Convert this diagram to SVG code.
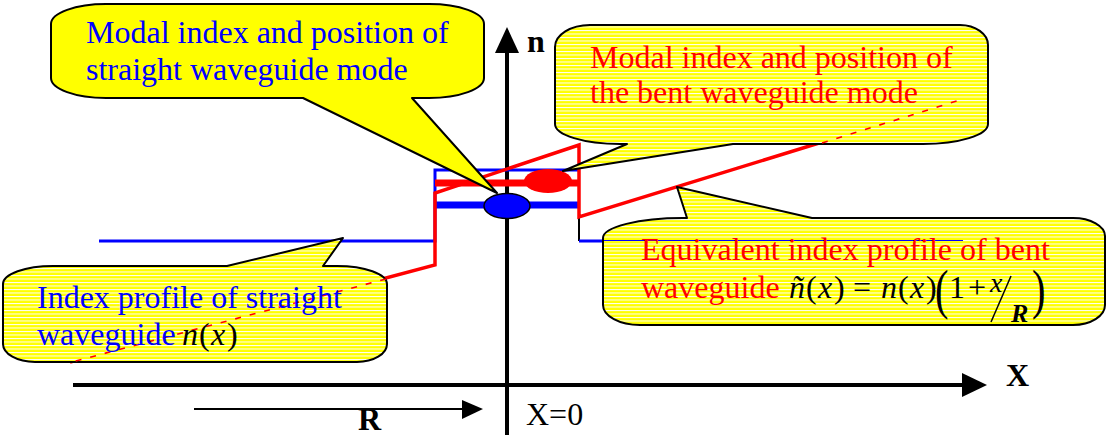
<svg xmlns="http://www.w3.org/2000/svg" width="1107" height="435" viewBox="0 0 1107 435">
<style>
.t{font-family:"Liberation Serif","Times New Roman",serif;font-size:32px}
.blue{fill:#0000FF}
.red{fill:#FF0000}
.blk{fill:#000}
.it{font-style:italic}
.bold{font-weight:bold}
.callout{stroke:#000;stroke-width:2;stroke-linejoin:round}
.axis{stroke:#000;stroke-width:4;fill:none}
.dash{stroke:#FF0000;stroke-width:1.6;stroke-dasharray:6 9;fill:none}
</style>
<defs>
<pattern id="stripes" patternUnits="userSpaceOnUse" x="0" y="240" width="10" height="3.5">
<rect x="0" y="0" width="10" height="3.5" fill="#FFFF00"/>
<rect x="0" y="0" width="10" height="1" fill="#FFFFFF"/>
</pattern>
</defs>

<g id="axes">
<line class="axis" x1="507" y1="50" x2="507" y2="435"/>
<polygon points="507,27 495,53 519,53" fill="#000"/>
<line class="axis" x1="73" y1="385" x2="964" y2="385"/>
<polygon points="987,385 962,373 962,397" fill="#000"/>
<line x1="194" y1="409" x2="465" y2="409" stroke="#000" stroke-width="2"/>
<polygon points="483,409 462,400 462,419" fill="#000"/>
<text class="t bold" x="527" y="52" font-size="40">n</text>
<text class="t bold" x="1006" y="386" font-size="38">X</text>
<text class="t bold" x="358" y="430" font-size="37">R</text>
<text class="t" x="526" y="425" font-size="30">X=0</text>
</g>

<g id="connectors">
<polyline points="99,241 435,241 435,170 579,170" fill="none" stroke="#0000FF" stroke-width="3"/>
<line x1="579" y1="170" x2="579" y2="241" stroke="#000" stroke-width="2"/>
<line x1="579" y1="241" x2="963" y2="241" stroke="#0000FF" stroke-width="3"/>
<line x1="435" y1="205" x2="579" y2="205" stroke="#0000FF" stroke-width="7"/>
<polyline points="70,362 435,265 435,193 579,145 579,217 965,98" fill="none" stroke="#FF0000" stroke-width="3.5" stroke-linejoin="miter"/>
<line x1="435" y1="183" x2="579" y2="183" stroke="#FF0000" stroke-width="7"/>
</g>

<g id="mode-straight">
<ellipse cx="507" cy="206" rx="23" ry="12.5" fill="#0000FF" stroke="#000" stroke-width="1.5"/>
</g>
<g id="mode-bent">
<ellipse cx="548" cy="181" rx="24" ry="12" fill="#FF0000"/>
</g>

<g id="callout-straight-mode">
<path class="callout" fill="#FFFF00" d="M 106 4 H 429 A 55 20 0 0 1 484 24 V 78 A 55 20 0 0 1 429 98 H 412 L 497 193 L 303 98 H 106 A 55 20 0 0 1 51 78 V 24 A 55 20 0 0 1 106 4 Z"/>
<text class="t blue" x="86" y="43">Modal index and position of</text>
<text class="t blue" x="86" y="80">straight waveguide mode</text>
</g>

<g id="callout-bent-mode">
<path class="callout" fill="url(#stripes)" d="M 590 25 H 960 A 28 20 0 0 1 988 45 V 124 A 65 20 0 0 1 923 144 H 733 L 563 171 L 627 144 H 620 A 65 20 0 0 1 555 124 V 47 A 35 22 0 0 1 590 25 Z"/>
<line class="dash" x1="822" y1="143" x2="963" y2="99"/>
<text class="t red" x="590" y="68">Modal index and position of</text>
<text class="t red" x="590" y="103">the bent waveguide mode</text>
</g>

<g id="callout-straight-profile">
<path class="callout" fill="url(#stripes)" d="M 53 266 H 227 L 343 238 L 323 266 H 337 A 50 18 0 0 1 387 284 V 344 A 30 18 0 0 1 357 362 H 35 A 32 18 0 0 1 3 344 V 284 A 50 18 0 0 1 53 266 Z"/>
<line class="dash" x1="386" y1="279" x2="72" y2="362"/>
<text class="t blue" x="37" y="308">Index profile of straight</text>
<text class="t" x="37" y="345"><tspan class="blue">waveguide</tspan><tspan class="blk it" x="182">n</tspan><tspan class="blk" x="199">(</tspan><tspan class="blk it" x="211">x</tspan><tspan class="blk" x="227">)</tspan></text>
</g>

<g id="callout-bent-profile">
<path class="callout" fill="url(#stripes)" d="M 683 218 H 687 L 677 187 L 812 218 H 1073 A 32 18 0 0 1 1105 236 V 305 A 32 20 0 0 1 1073 325 H 640 A 37 20 0 0 1 603 305 V 238 A 80 20 0 0 1 683 218 Z"/>
<line x1="604" y1="240.5" x2="963" y2="240.5" stroke="#0000FF" stroke-width="1.2"/>
<text class="t red" x="641" y="260">Equivalent index profile of bent</text>
<text class="t red" x="641" y="298">waveguide</text>
<g class="t blk">
<text class="it" x="789" y="298">ñ</text>
<text x="806" y="298">(</text>
<text class="it" x="818" y="298">x</text>
<text x="834" y="298">)</text>
<text x="853" y="298">=</text>
<text class="it" x="881" y="298">n</text>
<text x="898" y="298">(</text>
<text class="it" x="910" y="298">x</text>
<text x="926" y="298">)</text>
<text transform="translate(935,308) scale(0.75,1)" font-size="54">(</text>
<text x="949" y="298">1</text>
<text x="968" y="298">+</text>
<text class="it" x="990" y="292" font-size="28">x</text>
<line x1="991" y1="322" x2="1011" y2="276" stroke="#000" stroke-width="1.5"/>
<text class="it bold" x="1011" y="322" font-size="26">R</text>
<text transform="translate(1032,308) scale(0.75,1)" font-size="54">)</text>
</g>
</g>
</svg>
